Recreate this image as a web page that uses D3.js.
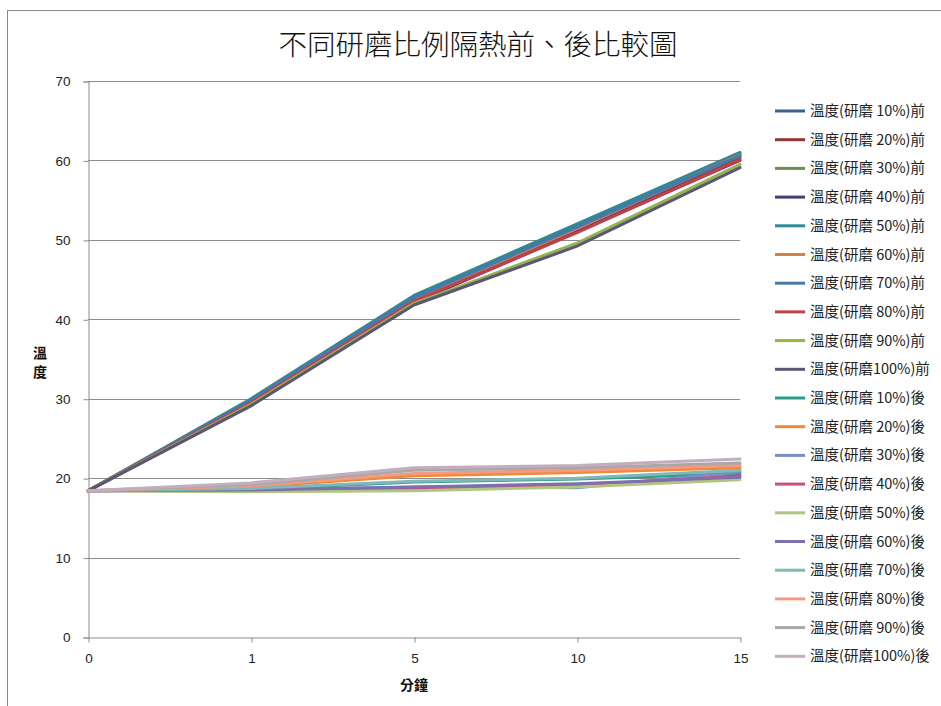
<!DOCTYPE html>
<html>
<head>
<meta charset="utf-8">
<script src="https://cdn.jsdelivr.net/npm/d3@7"></script>
<style>
  html, body { margin: 0; padding: 0; background: #fff; }
  svg { display: block; }
</style>
</head>
<body>
<svg id="chart" width="941" height="706"></svg>
<script>
// Time points (minutes) on a category axis
const minutes = ["0", "1", "5", "10", "15"];
const yTicks = [0, 10, 20, 30, 40, 50, 60, 70];

// Before insulation (前)
const before10  = [18.4, 29.8, 42.8, 51.8, 60.9];
const before20  = [18.4, 29.6, 42.5, 51.2, 60.4];
const before30  = [18.4, 29.7, 42.6, 51.5, 60.6];
const before40  = [18.4, 29.4, 42.1, 51.0, 60.0];
const before50  = [18.4, 30.0, 43.0, 52.0, 61.0];
const before60  = [18.4, 29.7, 42.6, 51.4, 60.7];
const before70  = [18.4, 29.8, 42.7, 51.6, 60.6];
const before80  = [18.4, 29.5, 42.3, 50.9, 60.1];
const before90  = [18.4, 29.3, 42.0, 49.6, 59.5];
const before100 = [18.4, 29.1, 41.8, 49.2, 59.1];

// After insulation (後)
const after10  = [18.4, 18.6, 19.5, 19.9, 20.6];
const after20  = [18.4, 18.9, 20.3, 20.7, 21.3];
const after30  = [18.4, 18.5, 18.9, 18.8, 20.8];
const after40  = [18.4, 18.4, 18.6, 19.0, 20.3];
const after50  = [18.4, 18.3, 18.4, 18.9, 19.8];
const after60  = [18.4, 18.5, 18.9, 19.3, 20.1];
const after70  = [18.4, 18.7, 19.6, 20.0, 21.0];
const after80  = [18.4, 19.0, 20.6, 21.0, 21.6];
const after90  = [18.4, 19.2, 21.0, 21.3, 21.9];
const after100 = [18.4, 19.4, 21.3, 21.6, 22.4];

const seriesNames = [
  "溫度(研磨 10%)前", "溫度(研磨 20%)前", "溫度(研磨 30%)前", "溫度(研磨 40%)前", "溫度(研磨 50%)前",
  "溫度(研磨 60%)前", "溫度(研磨 70%)前", "溫度(研磨 80%)前", "溫度(研磨 90%)前", "溫度(研磨100%)前",
  "溫度(研磨 10%)後", "溫度(研磨 20%)後", "溫度(研磨 30%)後", "溫度(研磨 40%)後", "溫度(研磨 50%)後",
  "溫度(研磨 60%)後", "溫度(研磨 70%)後", "溫度(研磨 80%)後", "溫度(研磨 90%)後", "溫度(研磨100%)後"
];
const seriesValues = [
  before10, before20, before30, before40, before50, before60, before70, before80, before90, before100,
  after10, after20, after30, after40, after50, after60, after70, after80, after90, after100
];
const seriesColors = [
  "#3D5F92", "#8C3836", "#728C4A", "#4A3C6E", "#2F8A96", "#D7823E", "#4A78AE", "#C0404F", "#93B44E", "#5C5676",
  "#2E9C8A", "#F08A3A", "#7A8FC8", "#C8507A", "#B0C77D", "#7E6FB0", "#7FB8B8", "#F59A80", "#A8A8A8", "#C2AEBE"
];

const svg = d3.select("#chart");
const cjk = "'Noto Sans CJK TC', 'Noto Sans CJK SC', sans-serif";
const latin = "'Liberation Sans', Arial, sans-serif";

// Outer chart frame
svg.append("rect")
  .attr("x", 7.5).attr("y", 10.5).attr("width", 945).attr("height", 700)
  .attr("fill", "none").attr("stroke", "#8a8a8a").attr("stroke-width", 1);

const plot = { left: 88, right: 740, top: 81, bottom: 637 };

const x = d3.scalePoint().domain(minutes).range([plot.left, plot.right]);
const y = d3.scaleLinear().domain([0, 70]).range([plot.bottom, plot.top]);

// Horizontal gridlines
svg.append("g")
  .selectAll("line")
  .data(yTicks.filter(t => t > 0))
  .join("line")
  .attr("x1", plot.left).attr("x2", plot.right)
  .attr("y1", d => Math.round(y(d)) + 0.5).attr("y2", d => Math.round(y(d)) + 0.5)
  .attr("stroke", "#8c8c8c").attr("stroke-width", 1);

// Y axis
const yAxis = svg.append("g")
  .attr("transform", `translate(${plot.left + 0.5},0.5)`)
  .call(d3.axisLeft(y).tickValues(yTicks).tickSize(5).tickPadding(13).tickFormat(d3.format("d")));
yAxis.select(".domain").attr("stroke", "#8c8c8c");
yAxis.selectAll(".tick line").attr("stroke", "#8c8c8c");
yAxis.selectAll("text").attr("font-family", latin).attr("font-size", 13.5).attr("fill", "#222");

// X axis
const xAxis = svg.append("g")
  .attr("transform", `translate(0.5,${plot.bottom + 0.5})`)
  .call(d3.axisBottom(x).tickSize(5).tickPadding(11).tickSizeOuter(0));
xAxis.select(".domain").attr("stroke", "#8c8c8c");
xAxis.selectAll(".tick line").attr("stroke", "#8c8c8c");
xAxis.selectAll("text").attr("font-family", latin).attr("font-size", 13.5).attr("fill", "#222");

// Series lines
const line = d3.line()
  .x((d, i) => x(minutes[i]))
  .y(d => y(d));

svg.append("g")
  .selectAll("path")
  .data(seriesValues)
  .join("path")
  .attr("d", d => line(d))
  .attr("fill", "none")
  .attr("stroke", (d, i) => seriesColors[i])
  .attr("stroke-width", 3)
  .attr("stroke-linejoin", "round")
  .attr("stroke-linecap", "round");

// Title
svg.append("text")
  .attr("x", 478).attr("y", 55)
  .attr("text-anchor", "middle")
  .attr("font-family", cjk).attr("font-size", 28.5).attr("font-weight", 300)
  .attr("fill", "#111")
  .text("不同研磨比例隔熱前、後比較圖");

// Axis titles
const yTitle = svg.append("text")
  .attr("font-family", cjk).attr("font-size", 14).attr("font-weight", "bold")
  .attr("fill", "#111").attr("text-anchor", "middle");
yTitle.append("tspan").attr("x", 40).attr("y", 358).text("溫");
yTitle.append("tspan").attr("x", 40).attr("y", 377).text("度");

svg.append("text")
  .attr("x", 414).attr("y", 690)
  .attr("text-anchor", "middle")
  .attr("font-family", cjk).attr("font-size", 14).attr("font-weight", "bold")
  .attr("fill", "#111")
  .text("分鐘");

// Legend
const legend = svg.append("g");
const legendRows = legend.selectAll("g")
  .data(seriesNames)
  .join("g")
  .attr("transform", (d, i) => `translate(775,${111 + i * 28.7})`);
legendRows.append("line")
  .attr("x1", 0).attr("x2", 30).attr("y1", 0).attr("y2", 0)
  .attr("stroke", (d, i) => seriesColors[i]).attr("stroke-width", 3);
legendRows.append("text")
  .attr("x", 35).attr("y", 5)
  .attr("font-family", cjk).attr("font-size", 14.5)
  .attr("fill", "#222")
  .text(d => d);
</script>
</body>
</html>
